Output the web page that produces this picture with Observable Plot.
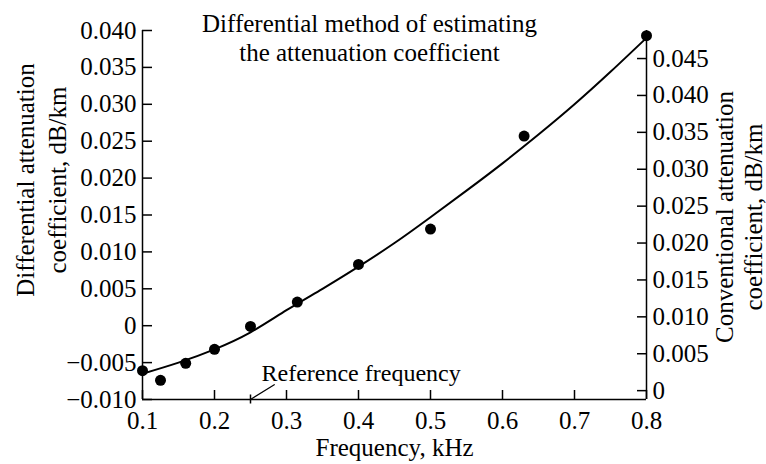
<!DOCTYPE html>
<html><head><meta charset="utf-8">
<script src="https://cdn.jsdelivr.net/npm/d3@7"></script>
<script src="https://cdn.jsdelivr.net/npm/@observablehq/plot@0.6"></script>
<style>
html,body{margin:0;padding:0;background:#fff;}
#chart svg{display:block;}
</style></head><body><div id="chart"></div>
<script>
// measured points (differential attenuation coefficient, dB/km)
const freqs    = [0.1, 0.125, 0.16, 0.2, 0.25, 0.315, 0.4, 0.5, 0.63, 0.8];
const diffVals = [-0.0061, -0.0074, -0.0051, -0.0032, -0.0001, 0.0032, 0.0083, 0.0131, 0.0257, 0.0393];
// fitted curve
const fitFreqs = [0.1, 0.15, 0.2, 0.25, 0.3, 0.35, 0.4, 0.45, 0.5, 0.55, 0.6, 0.65, 0.7, 0.75, 0.8];
const fitVals  = [-0.0065, -0.0050, -0.0032, -0.0009, 0.0021, 0.0050, 0.0080, 0.0112, 0.0147, 0.0183, 0.0220, 0.0259, 0.0300, 0.0344, 0.0390];
// axes
const xTicks = [0.1, 0.2, 0.3, 0.4, 0.5, 0.6, 0.7, 0.8];
const leftTicks = [-0.010, -0.005, 0, 0.005, 0.010, 0.015, 0.020, 0.025, 0.030, 0.035, 0.040];
const rightTicks = [0, 0.005, 0.010, 0.015, 0.020, 0.025, 0.030, 0.035, 0.040, 0.045];
const rightOffset = 0.0088; // conventional = differential + offset
const xDomain = [0.1, 0.8];
const yDomain = [-0.010, 0.040];
const refFreq = 0.25;
// texts
const titleText = "Differential method of estimating\nthe attenuation coefficient";
const xLabel = "Frequency, kHz";
const leftLabel = "Differential attenuation\ncoefficient, dB/km";
const rightLabel = "Conventional attenuation\ncoefficient, dB/km";
const refLabel = "Reference frequency";

const points = freqs.map((f, i) => ({f, v: diffVals[i]}));
const fit = fitFreqs.map((f, i) => ({f, v: fitVals[i]}));
const refPoint = [{f: refFreq, v: yDomain[0], label: refLabel}];

const fmt = d => {
  const r = Math.round(d * 1000) / 1000;
  if (Math.abs(r) < 1e-9) return "0";
  return (r < 0 ? "\u2212" : "") + Math.abs(r).toFixed(3);
};
const lineShape = {draw(ctx, l) { ctx.moveTo(0, 0); ctx.lineTo(0, -l); }};
const FONT = "'Liberation Serif','Times New Roman',Times,serif";

const chart = Plot.plot({
  width: 766, height: 464,
  marginLeft: 142, marginRight: 120, marginTop: 30, marginBottom: 65,
  style: {fontFamily: FONT, fontSize: "25px", color: "#000", background: "#fff"},
  x: {domain: xDomain},
  y: {domain: yDomain},
  marks: [
    // frame lines
    Plot.ruleX(xDomain, {strokeWidth: 1.5}),
    Plot.ruleY([yDomain[0]], {strokeWidth: 1.5}),
    // left axis
    Plot.axisY(leftTicks, {anchor: "left", tickSize: 0, tickPadding: 6, tickFormat: fmt, label: null, fontSize: 25}),
    Plot.axisY(leftTicks, {anchor: "left", tickSize: 10, dx: 10, fill: "none", strokeWidth: 1.5, label: null}),
    // right axis
    Plot.axisY(rightTicks.map(t => t - rightOffset), {anchor: "right", tickSize: 0, tickPadding: 6, tickFormat: d => fmt(d + rightOffset), label: null, fontSize: 25}),
    Plot.axisY(rightTicks.map(t => t - rightOffset), {anchor: "right", tickSize: 10, dx: -10, fill: "none", strokeWidth: 1.5, label: null}),
    // bottom axis
    Plot.axisX(xTicks, {anchor: "bottom", tickSize: 0, tickPadding: 12, tickFormat: d => d.toFixed(1), label: null, fontSize: 25}),
    Plot.axisX(xTicks, {anchor: "bottom", tickSize: 9, dy: -9, fill: "none", strokeWidth: 1.5, label: null}),
    Plot.axisX([refFreq], {anchor: "bottom", tickSize: 9, dy: -4.5, fill: "none", strokeWidth: 1.5, label: null}),
    // reference annotation
    Plot.vector(refPoint, {x: "f", y: "v", rotate: 58, length: 28, anchor: "start", shape: lineShape, strokeWidth: 1.2}),
    Plot.text(refPoint, {x: "f", y: "v", text: "label", textAnchor: "start", dx: 11, dy: -26, fontSize: 24}),
    // data
    Plot.line(fit, {x: "f", y: "v", curve: "natural", strokeWidth: 2}),
    Plot.dot(points, {x: "f", y: "v", r: 5.5, fill: "black"}),
    // titles and labels
    Plot.text([titleText], {frameAnchor: "top", textAnchor: "middle", dx: -25, dy: 6.5, lineAnchor: "middle", lineHeight: 1.17, fontSize: 25}),
    Plot.text([xLabel], {frameAnchor: "bottom", textAnchor: "middle", dy: 48, lineAnchor: "middle", fontSize: 25}),
    Plot.text([leftLabel], {frameAnchor: "left", textAnchor: "middle", rotate: -90, dx: -103, dy: -35, lineAnchor: "middle", lineHeight: 1.28, fontSize: 25}),
    Plot.text([rightLabel], {frameAnchor: "right", textAnchor: "middle", rotate: -90, dx: 92, dy: 2, lineAnchor: "middle", lineHeight: 1.16, fontSize: 25})
  ]
});
document.getElementById("chart").appendChild(chart);
</script>
</body></html>
